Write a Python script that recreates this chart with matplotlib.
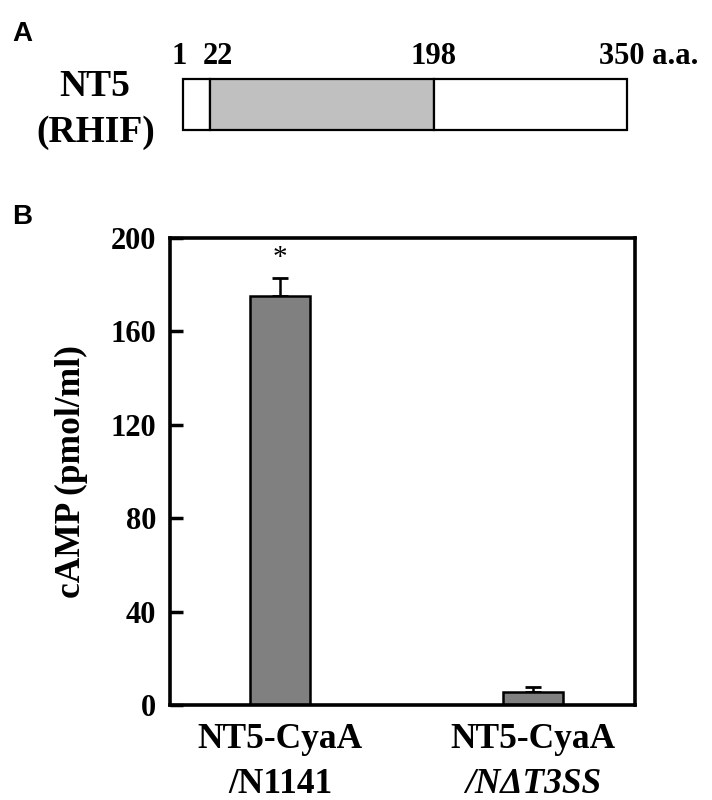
import matplotlib
matplotlib.use('Agg')
import matplotlib.pyplot as plt
from matplotlib.patches import Rectangle
from matplotlib.transforms import blended_transform_factory

# panel A: domain map of NT5 (RHIF)
domain_bounds = [1, 22, 198, 350]
domain_fill = ['white', '#c0c0c0', 'white']
bound_labels = ['1', '22', '198', '350 a.a.']

# panel B: cAMP levels
groups = ['NT5-CyaA', 'NT5-CyaA']
strains = ['/N1141', '/N\u0394T3SS']
strain_italic = [False, True]
camp = [175, 5.5]
camp_err = [8, 2]
signif = ['*', '']
yticks = [0, 40, 80, 120, 160, 200]

serif = ['Liberation Serif', 'DejaVu Serif']
sans = ['Liberation Sans', 'DejaVu Sans']

fig = plt.figure(figsize=(7.12, 8), dpi=100)

# ---- panel A
axa = fig.add_axes([183 / 712, 1 - 130 / 800, 444 / 712, 51 / 800])
axa.set_xlim(domain_bounds[0], domain_bounds[-1])
axa.set_ylim(0, 1)
axa.axis('off')
for i in range(len(domain_fill)):
    axa.add_patch(Rectangle((domain_bounds[i], 0), domain_bounds[i + 1] - domain_bounds[i], 1,
                            facecolor=domain_fill[i], edgecolor='black', lw=1.6, clip_on=False))
# small nudges keep the close "1" and "22" labels apart
nudge = [-3, 6, 0, -20]
for b, lab, dx in zip(domain_bounds, bound_labels, nudge):
    ha = 'left' if lab.endswith('a.a.') else 'center'
    axa.annotate(lab, (b, 1), xytext=(dx, 11), textcoords='offset points', ha=ha, va='baseline',
                 fontsize=22, fontweight='bold', family=serif, annotation_clip=False)
fig.text(95 / 712, 1 - 86 / 800, 'NT5', ha='center', va='center', fontsize=27, fontweight='bold', family=serif)
fig.text(96 / 712, 1 - 132 / 800, '(RHIF)', ha='center', va='center', fontsize=27, fontweight='bold', family=serif)
fig.text(12 / 712, 1 - 34 / 800, 'A', ha='left', va='center', fontsize=20, fontweight='bold', family=sans)
fig.text(12 / 712, 1 - 217 / 800, 'B', ha='left', va='center', fontsize=20, fontweight='bold', family=sans)

# ---- panel B
ax = fig.add_axes([170 / 712, 1 - 705 / 800, 465 / 712, 467 / 800])
x = list(range(len(camp)))
ax.bar(x, camp, width=0.237, color='#808080', edgecolor='black', linewidth=1.8, zorder=2)
ax.errorbar(x, camp, yerr=[[0] * len(camp), camp_err], fmt='none', ecolor='black',
            elinewidth=1.8, capsize=6, capthick=2, zorder=1)
for xi, v, e, s in zip(x, camp, camp_err, signif):
    if s:
        ax.annotate(s, (xi, v + e), xytext=(0, 5), textcoords='offset points', ha='center', va='bottom',
                    fontsize=21, family=serif)
ax.set_xlim(-0.435, 1.403)
ax.set_ylim(0, 200)
ax.set_yticks(yticks)
ax.set_yticklabels([str(t) for t in yticks], fontsize=22, fontweight='bold', family=serif)
ax.tick_params(axis='y', direction='in', length=9, width=2.5, pad=10)
ax.set_xticks([])
for sp in ax.spines.values():
    sp.set_linewidth(2.6)
ax.set_ylabel('cAMP (pmol/ml)', fontsize=25.5, fontweight='bold', family=serif, labelpad=16)

tr = blended_transform_factory(ax.transData, ax.transAxes)
for xi, g, st, it in zip(x, groups, strains, strain_italic):
    ax.annotate(g, (xi, 0), xycoords=tr, xytext=(0, -25), textcoords='offset points', ha='center',
                va='center', fontsize=25.5, fontweight='bold', family=serif, annotation_clip=False)
    ax.annotate(st, (xi, 0), xycoords=tr, xytext=(0, -57), textcoords='offset points', ha='center',
                va='center', fontsize=25.5, fontweight='bold', family=serif,
                style='italic' if it else 'normal', annotation_clip=False)

fig.savefig('out.png', dpi=100)
